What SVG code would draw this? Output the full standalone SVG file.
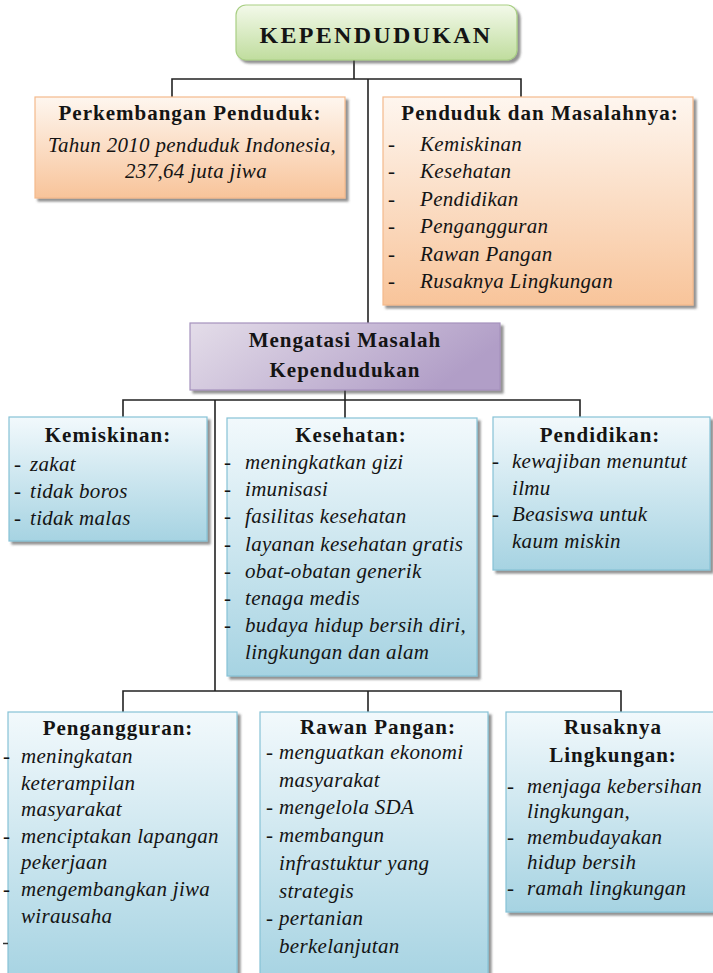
<svg xmlns="http://www.w3.org/2000/svg" width="713" height="973" viewBox="0 0 713 973">
<style>
  text { font-family: "Liberation Serif", "Times New Roman", serif; fill: #141414; }
  .h { font-weight: bold; font-size: 21px; letter-spacing: 1px; text-anchor: middle; }
  .i { font-style: italic; font-size: 21px; letter-spacing: 0.3px; }
  .ic { font-style: italic; font-size: 21px; letter-spacing: 0.3px; text-anchor: middle; }
  .d { font-size: 21px; }
  .c { stroke: #222; stroke-width: 1.6; fill: none; }
  .blue { fill: url(#gBlue); stroke: #86c2d6; stroke-width: 1.2; filter: url(#sh); }
  .orange { fill: url(#gOrange); stroke: #f3b98c; stroke-width: 1.2; filter: url(#sh); }
</style>
<defs>
  <linearGradient id="gBlue" x1="0" y1="0" x2="0" y2="1">
    <stop offset="0" stop-color="#f2f9fc"/>
    <stop offset="1" stop-color="#a6d3e2"/>
  </linearGradient>
  <linearGradient id="gOrange" x1="0" y1="0" x2="0" y2="1">
    <stop offset="0" stop-color="#fef6ef"/>
    <stop offset="1" stop-color="#f8c49a"/>
  </linearGradient>
  <linearGradient id="gGreen" x1="0" y1="0" x2="0" y2="1">
    <stop offset="0" stop-color="#f3f9ea"/>
    <stop offset="1" stop-color="#c0dd9e"/>
  </linearGradient>
  <linearGradient id="gPurple" x1="0" y1="0" x2="1" y2="0.3">
    <stop offset="0" stop-color="#e4dde9"/>
    <stop offset="1" stop-color="#b19ec7"/>
  </linearGradient>
  <filter id="sh" x="-5%" y="-5%" width="115%" height="120%">
    <feDropShadow dx="3" dy="3" stdDeviation="1.2" flood-color="#4a4a4a" flood-opacity="0.6"/>
  </filter>
</defs>
<rect width="713" height="973" fill="#ffffff"/>

<g id="connectors">
  <polyline class="c" points="354,60 354,79"/>
  <polyline class="c" points="172,97 172,79 521,79 521,97"/>
  <polyline class="c" points="368,79 368,323"/>
  <polyline class="c" points="345,390 345,418"/>
  <polyline class="c" points="123,417 123,400 580,400 580,417"/>
  <polyline class="c" points="215,400 215,691"/>
  <polyline class="c" points="123,712 123,691 621,691 621,712"/>
  <polyline class="c" points="368,691 368,712"/>
</g>

<g id="kependudukan">
  <rect x="236" y="5" width="281" height="55" rx="10" fill="url(#gGreen)" stroke="#a9cf84" stroke-width="1.2" filter="url(#sh)"/>
  <text x="376" y="43" font-weight="bold" font-size="24" letter-spacing="2.3" text-anchor="middle">KEPENDUDUKAN</text>
</g>

<g id="perkembangan">
  <rect class="orange" x="35" y="97" width="310" height="101"/>
  <text class="h" x="190" y="120">Perkembangan Penduduk:</text>
  <text class="ic" x="192" y="152">Tahun 2010 penduduk Indonesia,</text>
  <text class="ic" x="196" y="178">237,64 juta jiwa</text>
</g>

<g id="masalah">
  <rect class="orange" x="383" y="97" width="310" height="208"/>
  <text class="h" x="540" y="120">Penduduk dan Masalahnya:</text>
  <text class="d" x="388" y="151">-</text><text class="i" x="420" y="151">Kemiskinan</text>
  <text class="d" x="388" y="178.4">-</text><text class="i" x="420" y="178.4">Kesehatan</text>
  <text class="d" x="388" y="205.8">-</text><text class="i" x="420" y="205.8">Pendidikan</text>
  <text class="d" x="388" y="233.2">-</text><text class="i" x="420" y="233.2">Pengangguran</text>
  <text class="d" x="388" y="260.6">-</text><text class="i" x="420" y="260.6">Rawan Pangan</text>
  <text class="d" x="388" y="288">-</text><text class="i" x="420" y="288">Rusaknya Lingkungan</text>
</g>

<g id="mengatasi">
  <rect x="190" y="323" width="310" height="67" fill="url(#gPurple)" stroke="#a592bd" stroke-width="1.2" filter="url(#sh)"/>
  <text class="h" x="345" y="347">Mengatasi Masalah</text>
  <text class="h" x="345" y="377">Kependudukan</text>
</g>

<g id="kemiskinan">
  <rect class="blue" x="9" y="417" width="198" height="124"/>
  <text class="h" x="108" y="442">Kemiskinan:</text>
  <text class="d" x="14" y="470.5">-</text><text class="i" x="30" y="470.5">zakat</text>
  <text class="d" x="14" y="497.8">-</text><text class="i" x="30" y="497.8">tidak boros</text>
  <text class="d" x="14" y="525">-</text><text class="i" x="30" y="525">tidak malas</text>
</g>

<g id="kesehatan">
  <rect class="blue" x="227" y="418" width="250" height="258"/>
  <text class="h" x="351" y="442">Kesehatan:</text>
  <text class="d" x="224" y="469">-</text><text class="i" x="245" y="469">meningkatkan gizi</text>
  <text class="d" x="224" y="496.2">-</text><text class="i" x="245" y="496.2">imunisasi</text>
  <text class="d" x="224" y="523.4">-</text><text class="i" x="245" y="523.4">fasilitas kesehatan</text>
  <text class="d" x="224" y="550.6">-</text><text class="i" x="245" y="550.6">layanan kesehatan gratis</text>
  <text class="d" x="224" y="577.8">-</text><text class="i" x="245" y="577.8">obat-obatan generik</text>
  <text class="d" x="224" y="605">-</text><text class="i" x="245" y="605">tenaga medis</text>
  <text class="d" x="224" y="632.2">-</text><text class="i" x="245" y="632.2">budaya hidup bersih diri,</text>
  <text class="i" x="245" y="659.4">lingkungan dan alam</text>
</g>

<g id="pendidikan">
  <rect class="blue" x="493" y="417" width="217" height="153"/>
  <text class="h" x="600" y="442">Pendidikan:</text>
  <text class="d" x="492" y="468">-</text><text class="i" x="512" y="468">kewajiban menuntut</text>
  <text class="i" x="512" y="494.5">ilmu</text>
  <text class="d" x="492" y="521">-</text><text class="i" x="512" y="521">Beasiswa untuk</text>
  <text class="i" x="512" y="547.5">kaum miskin</text>
</g>

<g id="pengangguran">
  <rect class="blue" x="8" y="712" width="229" height="270"/>
  <text class="h" x="118" y="735">Pengangguran:</text>
  <text class="d" x="3" y="763">-</text><text class="i" x="21" y="763">meningkatan</text>
  <text class="i" x="21" y="789.6">keterampilan</text>
  <text class="i" x="21" y="816.2">masyarakat</text>
  <text class="d" x="3" y="842.8">-</text><text class="i" x="21" y="842.8">menciptakan lapangan</text>
  <text class="i" x="21" y="869.4">pekerjaan</text>
  <text class="d" x="3" y="896">-</text><text class="i" x="21" y="896">mengembangkan jiwa</text>
  <text class="i" x="21" y="922.6">wirausaha</text>
  <line x1="3" y1="943.5" x2="8" y2="943.5" stroke="#333" stroke-width="1.5"/>
</g>

<g id="rawan-pangan">
  <rect class="blue" x="260" y="712" width="228" height="270"/>
  <text class="h" x="378" y="734">Rawan Pangan:</text>
  <text class="d" x="266" y="759">-</text><text class="i" x="279" y="759">menguatkan ekonomi</text>
  <text class="i" x="279" y="786.7">masyarakat</text>
  <text class="d" x="266" y="814.4">-</text><text class="i" x="279" y="814.4">mengelola SDA</text>
  <text class="d" x="266" y="842.1">-</text><text class="i" x="279" y="842.1">membangun</text>
  <text class="i" x="279" y="869.8">infrastuktur yang</text>
  <text class="i" x="279" y="897.5">strategis</text>
  <text class="d" x="266" y="925.2">-</text><text class="i" x="279" y="925.2">pertanian</text>
  <text class="i" x="279" y="952.9">berkelanjutan</text>
</g>

<g id="rusaknya-lingkungan">
  <rect class="blue" x="506" y="712" width="215" height="200"/>
  <text class="h" x="613" y="734">Rusaknya</text>
  <text class="h" x="613" y="762">Lingkungan:</text>
  <text class="d" x="507" y="792.5">-</text><text class="i" x="527" y="792.5">menjaga kebersihan</text>
  <text class="i" x="527" y="818">lingkungan,</text>
  <text class="d" x="507" y="843.5">-</text><text class="i" x="527" y="843.5">membudayakan</text>
  <text class="i" x="527" y="869">hidup bersih</text>
  <text class="d" x="507" y="894.5">-</text><text class="i" x="527" y="894.5">ramah lingkungan</text>
</g>
</svg>
